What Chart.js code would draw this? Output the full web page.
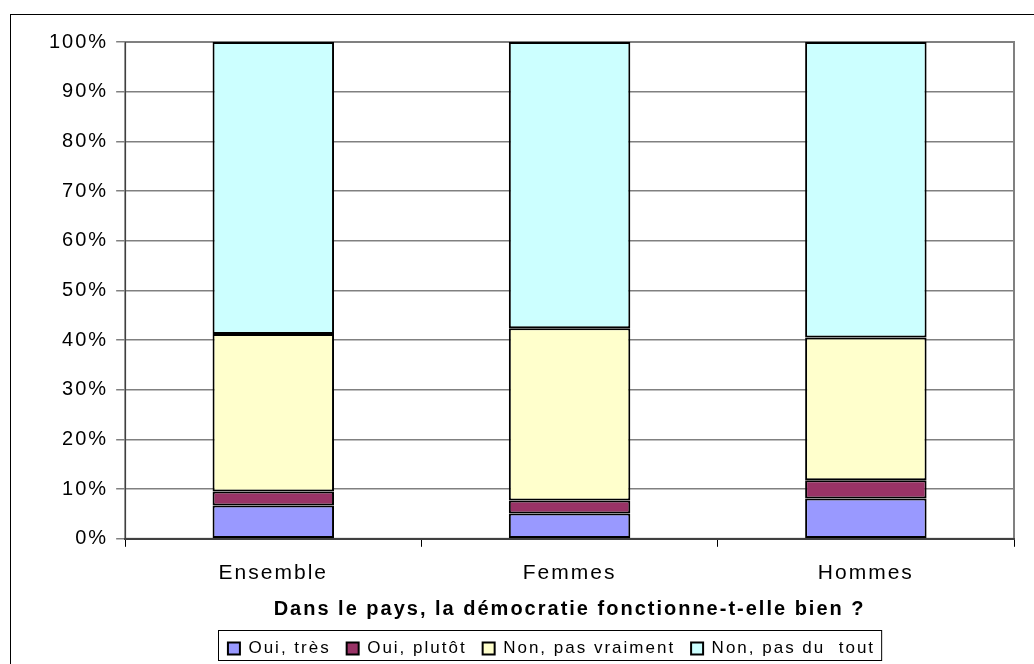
<!DOCTYPE html>
<html>
<head>
<meta charset="utf-8">
<script src="https://cdn.jsdelivr.net/npm/chart.js@4"></script>
<style>
  html, body { margin: 0; padding: 0; background: #fff; }
  #wrap { width: 1034px; height: 664px; position: relative; }
</style>
</head>
<body>
<div id="wrap"><canvas id="chart"></canvas></div>
<script>
const categories = ["Ensemble", "Femmes", "Hommes"];
const seriesNames = ["Oui, très", "Oui, plutôt", "Non, pas vraiment", "Non, pas du  tout"];
const ouiTres = [6.7, 5.1, 8.1];
const ouiPlutot = [2.8, 2.6, 3.7];
const nonPasVraiment = [31.7, 34.7, 28.7];
const nonPasDuTout = [58.8, 57.6, 59.5];
const seriesColors = ["#9999ff", "#993366", "#ffffcc", "#ccffff"];
const axisTitle = "Dans le pays, la démocratie fonctionne-t-elle bien ?";

const FONT = "Arial, 'Liberation Sans', sans-serif";

// the old office rendering spreads letters out a bit
function spread(chart) {
  chart.ctx.letterSpacing = "2px";
}

const framePlugin = {
  id: "frame",
  beforeUpdate: spread,
  beforeLayout: spread,
  afterLayout(chart) {
    const y = chart.scales.y;
    if (y && !y._spreadWrap) {
      const orig = y.draw.bind(y);
      y.draw = (area) => {
        chart.ctx.letterSpacing = "3px";
        orig(area);
        chart.ctx.letterSpacing = "2px";
      };
      y._spreadWrap = true;
    }
    // legend sits a little right of the page centre in the original
    chart.legend.left += 24;
    chart.legend.right += 24;
  },
  beforeDraw(chart) {
    spread(chart);
    const ctx = chart.ctx;
    ctx.save();
    ctx.strokeStyle = "#000";
    ctx.lineWidth = 1;
    ctx.strokeRect(10.5, 14.5, 1040, 700);
    const a = chart.chartArea;
    ctx.strokeStyle = "#808080";
    ctx.lineWidth = 2;
    ctx.strokeRect(a.left, a.top, a.right - a.left, a.bottom - a.top);
    ctx.restore();
  },
  afterDraw(chart) {
    const items = chart.legend.legendHitBoxes;
    if (!items || !items.length) return;
    const ctx = chart.ctx;
    ctx.save();
    ctx.strokeStyle = "#000";
    ctx.lineWidth = 1;
    const left = items[0].left - 10;
    const last = items[items.length - 1];
    const right = last.left + last.width + 6;
    ctx.strokeRect(Math.round(left) + 0.5, Math.round(items[0].top) - 9.5, right - left, items[0].height + 13);
    ctx.restore();
  }
};

const data = [ouiTres, ouiPlutot, nonPasVraiment, nonPasDuTout];

new Chart(document.getElementById("chart"), {
  type: "bar",
  data: {
    labels: categories,
    datasets: data.map((values, i) => ({
      label: seriesNames[i],
      data: values,
      backgroundColor: seriesColors[i],
      borderColor: "#000",
      borderWidth: 2,
      borderSkipped: false,
      barPercentage: 0.41,
      categoryPercentage: 1,
    })),
  },
  options: {
    responsive: true,
    maintainAspectRatio: false,
    animation: false,
    layout: { padding: { left: 41, right: 20, top: 42, bottom: -3 } },
    plugins: {
      tooltip: { enabled: false },
      legend: {
        position: "bottom",
        labels: {
          color: "#000",
          font: { family: FONT, size: 17 },
          boxWidth: 12,
          boxHeight: 12,
          padding: 16,
        },
      },
    },
    scales: {
      x: {
        stacked: true,
        offset: true,
        border: { color: "#404040", width: 2 },
        grid: { offset: true, drawOnChartArea: false, color: "#000", tickLength: 8 },
        ticks: { color: "#000", font: { family: FONT, size: 21 }, padding: 14 },
        title: {
          display: true,
          text: axisTitle,
          color: "#000",
          font: { family: FONT, size: 20, weight: "bold" },
          padding: { top: -3, bottom: 3 },
        },
      },
      y: {
        stacked: true,
        min: 0,
        max: 100,
        border: { color: "#404040", width: 1 },
        grid: { color: "#808080", lineWidth: 1.5, tickLength: 9 },
        ticks: {
          stepSize: 10,
          color: "#000",
          font: { family: FONT, size: 20 },
          padding: 8,
          callback: (v) => v + "%",
        },
      },
    },
  },
  plugins: [framePlugin],
});
</script>
</body>
</html>
